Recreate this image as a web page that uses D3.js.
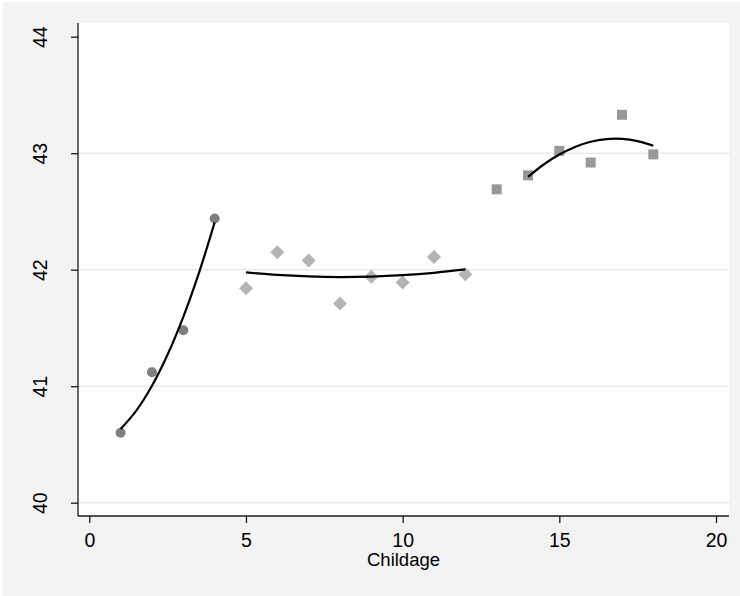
<!DOCTYPE html>
<html>
<head>
<meta charset="utf-8">
<script src="https://cdn.jsdelivr.net/npm/d3@7"></script>
<style>
  html, body { margin: 0; padding: 0; background: #ffffff; }
  svg { display: block; }
</style>
</head>
<body>
<svg id="chart" width="740" height="596"></svg>
<script>
// ---- data ----
const xTicks = [0, 5, 10, 15, 20];
const yTicks = [40, 41, 42, 43, 44];
const yGrid = [40, 41, 42, 43];
const xTitle = "Childage";

// group 1 (circles)
const g1X = [1, 2, 3, 4];
const g1Y = [40.60, 41.12, 41.48, 42.44];
// group 2 (diamonds)
const g2X = [5, 6, 7, 8, 9, 10, 11, 12];
const g2Y = [41.84, 42.15, 42.08, 41.71, 41.94, 41.89, 42.11, 41.96];
// group 3 (squares)
const g3X = [13, 14, 15, 16, 17, 18];
const g3Y = [42.69, 42.81, 43.02, 42.92, 43.33, 42.99];

// fitted curves
const fit1X = [1, 1.5, 2, 2.5, 3, 3.5, 4];
const fit1Y = [40.633, 40.791, 41.004, 41.272, 41.595, 41.973, 42.406];
const fit2X = [5, 6, 7, 8, 9, 10, 11, 12];
const fit2Y = [41.977, 41.955, 41.942, 41.937, 41.941, 41.953, 41.973, 42.002];
const fit3X = [14, 14.5, 15, 15.5, 16, 16.5, 17, 17.5, 18];
const fit3Y = [42.796, 42.903, 42.989, 43.054, 43.098, 43.121, 43.123, 43.104, 43.064];

// ---- layout ----
const svg = d3.select("#chart");
const W = 740, H = 596;
const plot = { left: 78, top: 23, right: 729, bottom: 516 };

svg.append("rect").attr("x", 3).attr("y", 2).attr("width", W - 3).attr("height", H - 2)
  .attr("fill", "#f3f3f3");
svg.append("rect").attr("x", plot.left).attr("y", plot.top)
  .attr("width", plot.right - plot.left).attr("height", plot.bottom - plot.top)
  .attr("fill", "#ffffff");

const x = d3.scaleLinear().domain([0, 20]).range([89.3, 716]);
const y = d3.scaleLinear().domain([40, 44]).range([502.7, 36.7]);

// grid
svg.append("g").selectAll("line").data(yGrid).join("line")
  .attr("x1", plot.left).attr("x2", plot.right)
  .attr("y1", d => y(d)).attr("y2", d => y(d))
  .attr("stroke", "#eaeaea").attr("stroke-width", 1.5);

const font = "'Liberation Sans', Arial, Helvetica, sans-serif";

// y axis
const yAxis = svg.append("g").attr("transform", `translate(${plot.left},0)`)
  .call(d3.axisLeft(y).tickValues(yTicks).tickSize(7).tickPadding(6).tickFormat(d3.format("d")));
yAxis.select(".domain").remove();
yAxis.append("line").attr("x1", 0).attr("x2", 0).attr("y1", plot.top).attr("y2", plot.bottom)
  .attr("stroke", "#1a1a1a").attr("stroke-width", 1.3);
yAxis.selectAll(".tick line").attr("stroke", "#1a1a1a").attr("stroke-width", 1.3);
yAxis.selectAll(".tick text")
  .attr("font-family", font).attr("font-size", 19.5).attr("fill", "#000")
  .attr("x", null).attr("dy", null)
  .attr("text-anchor", "middle")
  .attr("transform", "translate(-31,0) rotate(-90)")
  .attr("y", 0);

// x axis
const xAxis = svg.append("g").attr("transform", `translate(0,${plot.bottom})`)
  .call(d3.axisBottom(x).tickValues(xTicks).tickSize(7).tickPadding(5).tickFormat(d3.format("d")));
xAxis.select(".domain").remove();
xAxis.append("line").attr("x1", plot.left).attr("x2", plot.right).attr("y1", 0).attr("y2", 0)
  .attr("stroke", "#1a1a1a").attr("stroke-width", 1.3);
xAxis.selectAll(".tick line").attr("stroke", "#1a1a1a").attr("stroke-width", 1.3);
xAxis.selectAll(".tick text")
  .attr("font-family", font).attr("font-size", 19.5).attr("fill", "#000")
  .attr("dy", null).attr("y", 31);

svg.append("text").attr("x", (plot.left + plot.right) / 2).attr("y", 566)
  .attr("text-anchor", "middle").attr("font-family", font).attr("font-size", 18.5)
  .attr("fill", "#000").text(xTitle);

// markers
const zip = (xs, ys) => xs.map((v, i) => ({ x: v, y: ys[i] }));

svg.append("g").selectAll("circle").data(zip(g1X, g1Y)).join("circle")
  .attr("cx", d => x(d.x)).attr("cy", d => y(d.y)).attr("r", 5)
  .attr("fill", "#7f7f7f");

svg.append("g").selectAll("path").data(zip(g2X, g2Y)).join("path")
  .attr("d", d3.symbol(d3.symbolSquare, 98))
  .attr("transform", d => `translate(${x(d.x)},${y(d.y)}) rotate(45)`)
  .attr("fill", "#b4b4b4");

svg.append("g").selectAll("rect").data(zip(g3X, g3Y)).join("rect")
  .attr("x", d => x(d.x) - 5).attr("y", d => y(d.y) - 5)
  .attr("width", 10).attr("height", 10)
  .attr("fill", "#999999");

// fitted lines
const line = d3.line().x(d => x(d.x)).y(d => y(d.y)).curve(d3.curveCatmullRom);
[[fit1X, fit1Y], [fit2X, fit2Y], [fit3X, fit3Y]].forEach(([xs, ys]) => {
  svg.append("path").datum(zip(xs, ys)).attr("d", line)
    .attr("fill", "none").attr("stroke", "#000").attr("stroke-width", 2.2);
});
</script>
</body>
</html>
